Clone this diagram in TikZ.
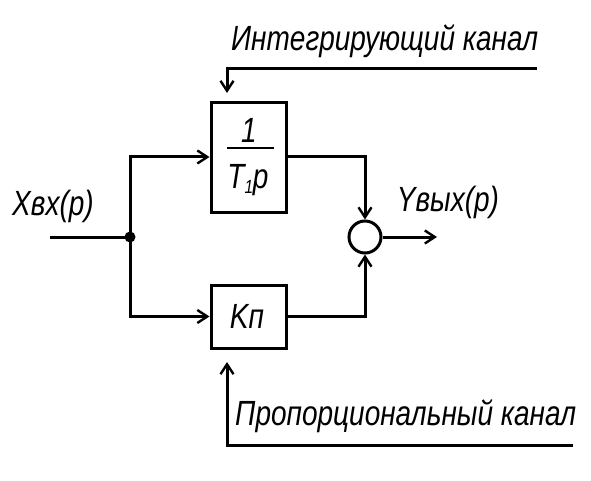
\documentclass[tikz,border=0pt]{standalone}
\usepackage{fontspec}
\setmainfont{Liberation Sans}
\usetikzlibrary{arrows.meta}
\newcommand{\gst}[2][0.8]{\scalebox{#1}[1]{\itshape #2}}
\begin{document}
\begin{tikzpicture}[x=1pt,y=-1pt,
  ln/.style={line width=3pt},
  arr/.style={ln,-{Straight Barb[length=10pt,width=13pt,line width=2.4pt]}},
  blk/.style={draw,line width=3pt,minimum width=75pt,inner sep=0pt},
  lbl/.style={inner sep=0pt,font=\fontsize{35}{35}\selectfont}]
\useasboundingbox (0,0) rectangle (591,481);
% blocks
\node[blk,minimum height=109pt] (int) at (248.5,157.5) {};
\node[blk,minimum height=63pt] (kp) at (248.5,316.5) {};
\node[lbl] (one) at (249,130) {\gst{1}};
\draw[line width=2.4pt] (227,148) -- (274,148);
\node[lbl] (tp) at (248,180) {\gst{T\raisebox{-0.15em}{\fontsize{19}{19}\selectfont 1}p}};
\node[lbl] (kpt) at (247,316) {\gst{Kп}};
% summing junction
\node[draw,circle,line width=3pt,minimum size=32pt,inner sep=0pt] (sum) at (365,237) {};
% input
\coordinate (in) at (50,237);
\coordinate (j) at (130,237);
\fill (j) circle (5.5pt);
\draw[ln] (in) -- (j);
\draw[arr] (j) |- (int.west |- 0,157);
\draw[arr] (j) |- (kp.west);
\draw[arr] (int.east |- 0,157) -| (sum.north);
\draw[arr] (kp.east) -| (sum.south);
\coordinate (out) at (437,237);
\draw[arr] (sum.east) -- (out);
% labels
\node[lbl] (xin) at (53,206) {\gst{Xвх(p)}};
\node[lbl] (yout) at (448,202) {\gst{Yвых(p)}};
% channels
\coordinate (ic) at (537,69);
\draw[arr] (ic) -| (227,93);
\node[lbl,anchor=south west] (intt) at (231,58) {\gst{Интегрирующий канал}};
\coordinate (pc) at (573,445);
\draw[arr] (pc) -| (227,362);
\node[lbl,anchor=south west] (prt) at (235,433) {\gst{Пропорциональный канал}};
\end{tikzpicture}
\end{document}
